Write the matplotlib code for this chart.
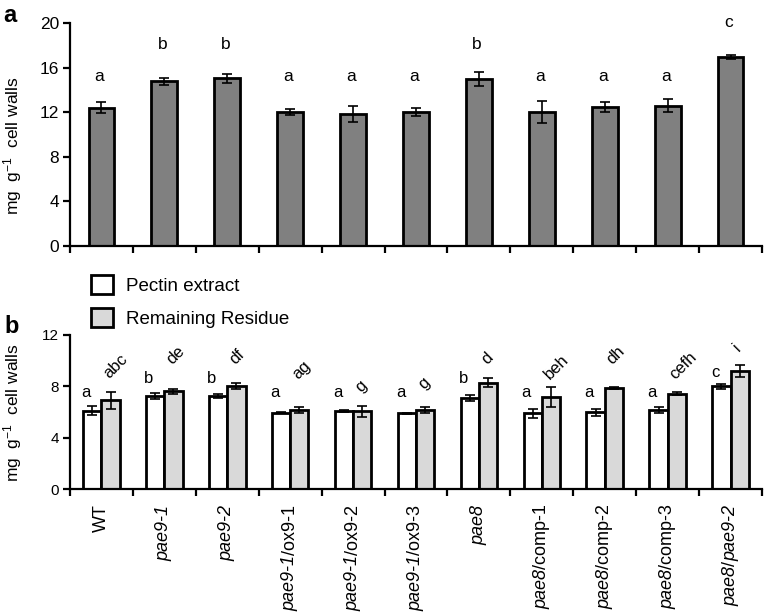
import matplotlib
matplotlib.use("Agg")
import matplotlib.pyplot as plt
from matplotlib.patches import Patch
import numpy as np

plt.rcParams['font.family'] = ['Liberation Sans', 'DejaVu Sans']
plt.rcParams['mathtext.fontset'] = 'custom'
plt.rcParams['mathtext.rm'] = 'Liberation Sans'
plt.rcParams['mathtext.it'] = 'Liberation Sans:italic'

# ---------------- data ----------------
# parts between asterisks are italic
genotypes = ['WT', '*pae9-1*', '*pae9-2*', '*pae9-1*/ox9-1', '*pae9-1*/ox9-2',
             '*pae9-1*/ox9-3', '*pae8*', '*pae8*/comp-1', '*pae8*/comp-2',
             '*pae8*/comp-3', '*pae8*/*pae9-2*']

total_mean = [12.4, 14.8, 15.05, 12.0, 11.85, 12.0, 15.0, 12.05, 12.45, 12.6, 16.95]
total_err = [0.5, 0.3, 0.4, 0.27, 0.7, 0.35, 0.65, 1.0, 0.45, 0.6, 0.2]
total_letters = ['a', 'b', 'b', 'a', 'a', 'a', 'b', 'a', 'a', 'a', 'c']

pectin_mean = [6.1, 7.25, 7.27, 5.95, 6.08, 5.92, 7.1, 5.9, 6.0, 6.17, 8.0]
pectin_err = [0.35, 0.25, 0.14, 0.05, 0.07, 0.05, 0.25, 0.33, 0.27, 0.26, 0.2]
pectin_letters = ['a', 'b', 'b', 'a', 'a', 'a', 'b', 'a', 'a', 'a', 'c']

resid_mean = [6.92, 7.62, 8.03, 6.2, 6.08, 6.17, 8.3, 7.15, 7.85, 7.45, 9.2]
resid_err = [0.65, 0.17, 0.26, 0.23, 0.43, 0.23, 0.35, 0.78, 0.07, 0.12, 0.45]
resid_letters = ['abc', 'de', 'df', 'ag', 'g', 'g', 'd', 'beh', 'dh', 'cefh', 'i']

# annotation heights (data units)
total_letter_y = {'a': 14.85, 'b': 17.67, 'c': 19.7}
pectin_letter_y = {'a': 7.2, 'b': 8.27, 'c': 8.75}
resid_letter_y = [8.55, 9.67, 9.67, 8.5, 7.46, 7.72, 9.67, 8.5, 9.67, 8.5, 10.7]

# ---------------- figure ----------------
W, H = 767, 614
fig = plt.figure(figsize=(W / 100, H / 100), dpi=100)

def frac_axes(left, top, right, bottom):
    return [left / W, 1 - bottom / H, (right - left) / W, (bottom - top) / H]

ax1 = fig.add_axes(frac_axes(70, 23.3, 762, 246))
ax2 = fig.add_axes(frac_axes(70, 335, 762, 489.3))

x = np.arange(len(genotypes))

def style_axis(ax, tick_fs):
    for s in ['top', 'right']:
        ax.spines[s].set_visible(False)
    for s in ['left', 'bottom']:
        ax.spines[s].set_linewidth(1.6)
    ax.set_xlim(-0.5, len(genotypes) - 0.5)
    ax.set_xticks(x)
    ax.set_xticks(np.arange(-0.5, len(genotypes)), minor=True)
    ax.set_xticklabels([])
    ax.tick_params(axis='x', which='major', length=0)
    ax.tick_params(axis='x', which='minor', length=5, width=1.6, direction='out')
    ax.tick_params(axis='y', length=5, width=1.6, direction='out', labelsize=tick_fs, pad=3)

ekw = dict(ecolor='black', elinewidth=1.2, capsize=3.5, capthick=1.2)

# panel a
ax1.bar(x, total_mean, width=0.41, color='#808080', edgecolor='black', linewidth=2, zorder=2)
ax1.errorbar(x, total_mean, yerr=total_err, fmt='none', zorder=3, **ekw)
ax1.set_ylim(0, 20)
ax1.set_yticks([0, 4, 8, 12, 16, 20])
style_axis(ax1, 12.5)
for xi, lt in zip(x, total_letters):
    ax1.text(xi - 0.03, total_letter_y[lt], lt, ha='center', va='baseline', fontsize=12.5)

# panel b
bw = 0.29
ax2.bar(x - bw / 2, pectin_mean, width=bw, color='white', edgecolor='black', linewidth=2, zorder=2)
ax2.bar(x + bw / 2, resid_mean, width=bw, color='#d9d9d9', edgecolor='black', linewidth=2, zorder=2)
ax2.errorbar(x - bw / 2, pectin_mean, yerr=pectin_err, fmt='none', zorder=3, **ekw)
ax2.errorbar(x + bw / 2, resid_mean, yerr=resid_err, fmt='none', zorder=3, **ekw)
ax2.set_ylim(0, 12)
ax2.set_yticks([0, 4, 8, 12])
style_axis(ax2, 11)
for xi, lt in zip(x, pectin_letters):
    ax2.text(xi - bw / 2 - 0.1, pectin_letter_y[lt], lt, ha='center', va='baseline', fontsize=12)
for xi, lt, ly in zip(x, resid_letters, resid_letter_y):
    ax2.text(xi + bw / 2 - 0.02, ly, lt, ha='left', va='baseline', fontsize=12,
             rotation=45, rotation_mode='anchor')

# x tick labels with mixed italic / roman parts; rotated text reads bottom-to-top,
# so the last part sits next to the axis and earlier parts are stacked below it
tick_fs = 13
for xi, lab in zip(x, genotypes):
    parts = [(p, 'italic' if k % 2 == 1 else 'normal')
             for k, p in enumerate(lab.split('*')) if p]
    prev = None
    for part, style in reversed(parts):
        if prev is None:
            prev = ax2.annotate(part, xy=(xi, 0), xycoords=('data', 'axes fraction'),
                                xytext=(0, -11), textcoords='offset points',
                                rotation=90, ha='center', va='top', fontsize=tick_fs,
                                style=style, annotation_clip=False)
        else:
            prev = ax2.annotate(part, xy=(0.5, 0), xycoords=prev,
                                rotation=90, ha='center', va='top', fontsize=tick_fs,
                                style=style, annotation_clip=False)

# legend
handles = [Patch(facecolor='white', edgecolor='black', linewidth=2),
           Patch(facecolor='#d9d9d9', edgecolor='black', linewidth=2)]
fig.legend(handles, ['Pectin extract', 'Remaining Residue'], loc='upper left',
           bbox_to_anchor=(91 / W, 1 - 275 / H), bbox_transform=fig.transFigure,
           frameon=False, fontsize=13.5, handlelength=1.15, handleheight=1.15,
           handletextpad=0.7, labelspacing=0.72, borderpad=0, borderaxespad=0)

# y labels and panel letters
ylab = r'mg  g$^{-1}$  cell walls'
fig.text(13 / W, 1 - 146 / H, ylab, rotation=90, ha='center', va='center', fontsize=12.5)
fig.text(13 / W, 1 - 413 / H, ylab, rotation=90, ha='center', va='center', fontsize=12.5)
fig.text(3 / W, 1 - 22 / H, 'a', fontsize=17, fontweight='bold', ha='left', va='baseline')
fig.text(4 / W, 1 - 333 / H, 'b', fontsize=17, fontweight='bold', ha='left', va='baseline')

fig.savefig('out.png', dpi=100)
